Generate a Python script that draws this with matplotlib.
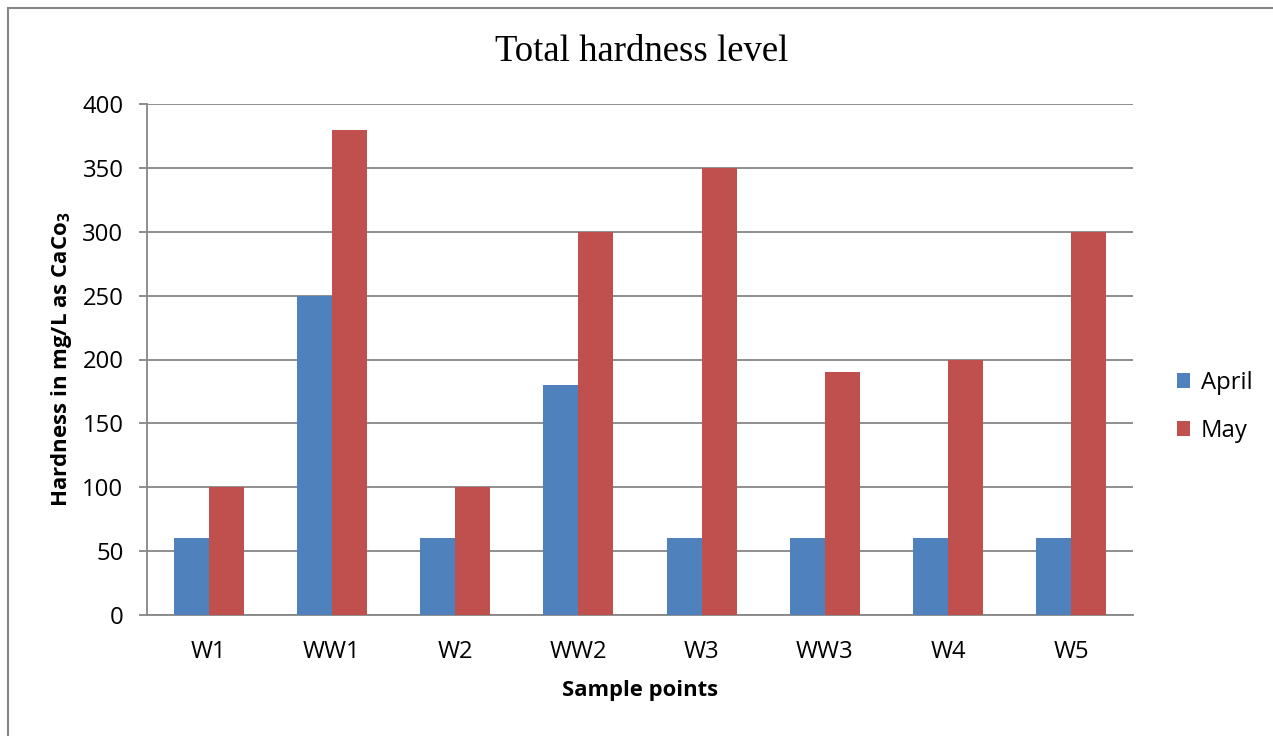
import numpy as np
import matplotlib
matplotlib.use("Agg")
import matplotlib.pyplot as plt
from matplotlib.lines import Line2D

# chart data
samples = ["W1", "WW1", "W2", "WW2", "W3", "WW3", "W4", "W5"]
april = [60, 250, 60, 180, 60, 60, 60, 60]
may = [100, 380, 100, 300, 350, 190, 200, 300]
y_ticks = [0, 50, 100, 150, 200, 250, 300, 350, 400]

plt.rcParams['font.family'] = ['Open Sans', 'DejaVu Sans']
plt.rcParams['mathtext.fontset'] = 'custom'
plt.rcParams['mathtext.rm'] = 'Open Sans'
plt.rcParams['mathtext.bf'] = 'Open Sans:bold'

grey = "#868686"
blue = "#4F81BD"
red = "#C0504D"

fig = plt.figure(figsize=(12.73, 7.36), dpi=100)
ax = fig.add_axes([147/1273, 121/736, 986/1273, 511/736])

x = np.arange(len(samples))
w = 0.284
ax.bar(x - w/2, april, width=w, color=blue, label="April", zorder=3)
ax.bar(x + w/2, may, width=w, color=red, label="May", zorder=3)

ax.set_xlim(-0.5, len(samples) - 0.5)
ax.set_ylim(0, 400)
ax.set_yticks(y_ticks)
ax.set_xticks(x)
ax.set_xticklabels(samples)
ax.yaxis.grid(True, color=grey, linewidth=1.3, zorder=0)

for s in ["top", "right"]:
    ax.spines[s].set_visible(False)
for s in ["left", "bottom"]:
    ax.spines[s].set_color(grey)
    ax.spines[s].set_linewidth(1.3)

ax.tick_params(axis="y", length=6, width=1.3, color=grey, pad=11, labelsize=17.2)
ax.tick_params(axis="x", length=0, pad=18, labelsize=17.2)

ax.set_ylabel(r"Hardness in mg/L as CaCo$_{\mathbf{3}}$", fontsize=16, fontweight="bold")
ax.yaxis.set_label_coords(-0.074, 0.5)
ax.set_xlabel("Sample points", fontsize=15.8, fontweight="bold")
ax.xaxis.set_label_coords(0.5, -0.127)

fig.text(642/1273, 1 - 52/736, "Total hardness level", family="Liberation Serif",
         fontsize=26.5, ha="center", va="center")

ax.legend(loc="center left", bbox_to_anchor=(1.0446, 0.407), frameon=False,
          borderpad=0, borderaxespad=0, handlelength=0.55, handleheight=0.55,
          handletextpad=0.45, labelspacing=1.0, fontsize=17.2)

# outer chart frame (only left and top edges are visible)
fig.add_artist(Line2D([8/1273, 8/1273], [0, 1 - 8/736], color=grey, linewidth=1.5,
                      transform=fig.transFigure))
fig.add_artist(Line2D([8/1273, 1], [1 - 8/736, 1 - 8/736], color=grey, linewidth=1.5,
                      transform=fig.transFigure))

fig.savefig("out.png", dpi=100)
